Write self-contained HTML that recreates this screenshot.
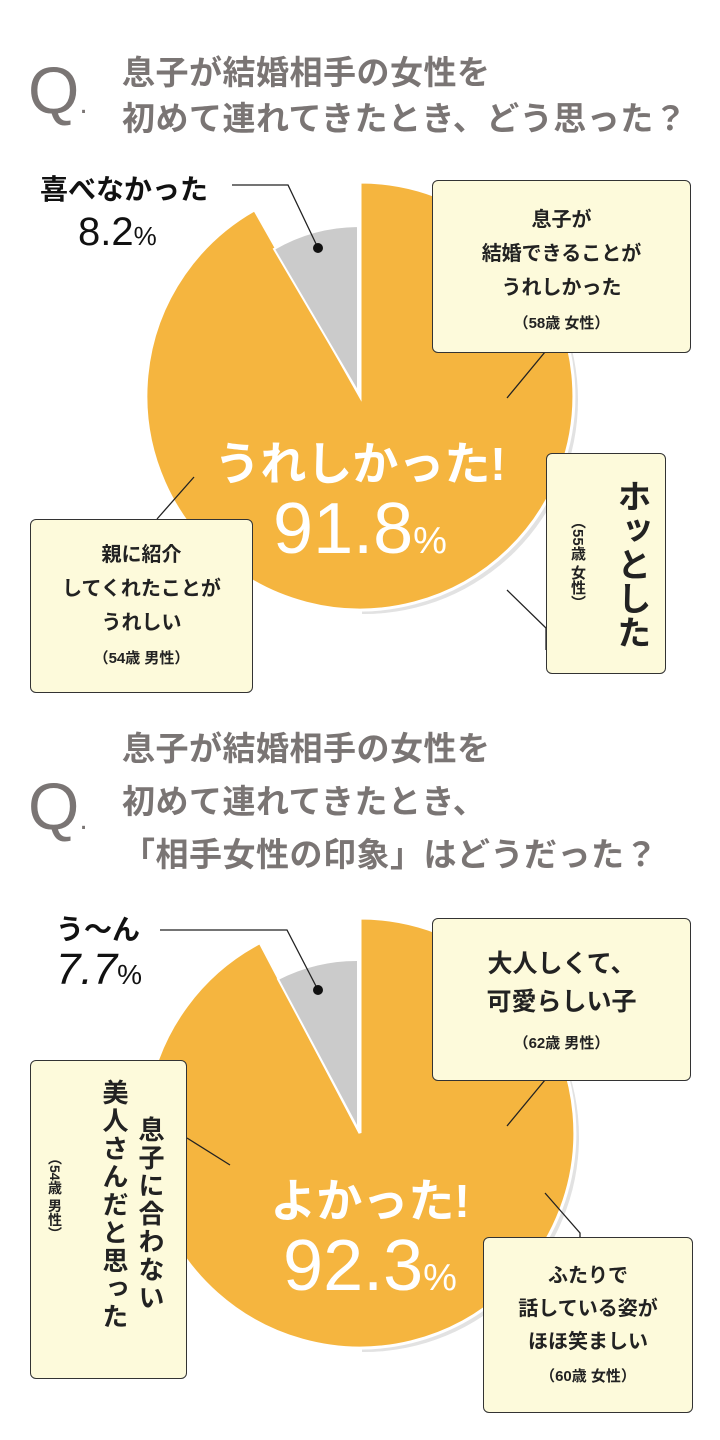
<!DOCTYPE html>
<html><head><meta charset="utf-8"><style>
body{margin:0;background:#fff;width:720px;height:1440px;position:relative;overflow:hidden;font-family:"Liberation Sans","Noto Sans CJK JP",sans-serif}
.a{position:absolute}
.t{color:#7a7574;font-size:33px;font-weight:700;line-height:46px;letter-spacing:0.5px;white-space:nowrap}
.q{color:#7a7574;font-size:66px;font-weight:400;font-family:"Liberation Sans",sans-serif}
.box{position:absolute;background:#fdfadb;border:1.5px solid #333;border-radius:6px;box-sizing:border-box;text-align:center;color:#222;font-weight:700}
.s{font-size:15px;font-weight:700}
.w{color:#fff;font-weight:700;text-align:center;white-space:nowrap}
.v{writing-mode:vertical-rl;position:absolute;text-align:start}
</style></head><body>
<svg class="a" style="left:0;top:0" width="720" height="1440">
<defs><clipPath id="c"><rect x="362" y="0" width="400" height="1440"/></clipPath></defs>
<circle cx="364" cy="400" r="214" fill="#e2e2e2" clip-path="url(#c)"/>
<path d="M360 396 L360 182 A214 214 0 1 1 254.6 209.7 Z" fill="#f5b53f" stroke="#fff" stroke-width="3"/>
<path d="M358 392 L358 226 A170 170 0 0 0 274 249 Z" fill="#cbcbcb" stroke="#fff" stroke-width="2"/>
<circle cx="364" cy="1137" r="215" fill="#e2e2e2" clip-path="url(#c)"/>
<path d="M360 1133 L360 918 A215 215 0 1 1 260 942.6 Z" fill="#f5b53f" stroke="#fff" stroke-width="3"/>
<path d="M358 1129 L358 960 A173 173 0 0 0 278 979 Z" fill="#cbcbcb" stroke="#fff" stroke-width="2"/>
<g stroke="#222" stroke-width="1.3" fill="none">
<polyline points="232,185 288,185 318,248"/>
<line x1="545" y1="352" x2="507" y2="398"/>
<line x1="157" y1="519" x2="194" y2="477"/>
<polyline points="507,590 546,628 546,650"/>
<polyline points="160,930 287,930 318,990"/>
<line x1="545" y1="1080" x2="507" y2="1126"/>
<line x1="187" y1="1138" x2="230" y2="1165"/>
<polyline points="545,1193 580,1233 580,1237"/>
</g>
<circle cx="318" cy="248" r="5" fill="#111"/>
<circle cx="318" cy="990" r="5" fill="#111"/>
</svg>
<div class="a q" style="left:28px;top:52px">Q<span style="font-size:30px">.</span></div>
<div class="a t" style="left:122px;top:50px">息子が結婚相手の女性を<br>初めて連れてきたとき、どう思った？</div>
<div class="a q" style="left:28px;top:768px">Q<span style="font-size:30px">.</span></div>
<div class="a t" style="left:122px;top:722px;line-height:53px">息子が結婚相手の女性を<br>初めて連れてきたとき、<br>「相手女性の印象」はどうだった？</div>

<div class="a" style="left:40px;top:168px;font-size:28px;font-weight:700;color:#111">喜べなかった</div>
<div class="a" style="left:78px;top:210px;font-size:40px;color:#111">8.2<span style="font-size:26px">%</span></div>
<div class="a" style="left:56px;top:908px;font-size:28px;font-weight:700;color:#111">う〜ん</div>
<div class="a" style="left:56px;top:945px;font-size:44px;color:#111;font-style:italic">7.7<span style="font-size:28px;font-style:normal">%</span></div>

<div class="a w" style="left:210px;top:428px;width:300px;font-size:46px">うれしかった!</div>
<div class="a w" style="left:210px;top:488px;width:300px;font-size:72px;font-weight:400">91.8<span style="font-size:38px">%</span></div>
<div class="a w" style="left:250px;top:1165px;width:240px;font-size:46px">よかった!</div>
<div class="a w" style="left:230px;top:1225px;width:280px;font-size:72px;font-weight:400">92.3<span style="font-size:38px">%</span></div>

<div class="box" style="left:432px;top:180px;width:259px;height:173px;padding-top:22px;font-size:20px;line-height:34px">息子が<br>結婚できることが<br>うれしかった<br><span class="s">（58歳 女性）</span></div>
<div class="box" style="left:546px;top:453px;width:120px;height:221px">
<div class="v" style="left:60px;top:25px;font-size:34px;font-weight:700;letter-spacing:0">ホッとした</div>
<div class="v" style="left:20px;top:60px;font-size:15px">（55歳 女性）</div></div>
<div class="box" style="left:30px;top:519px;width:223px;height:174px;padding-top:18px;font-size:20px;line-height:34px">親に紹介<br>してくれたことが<br>うれしい<br><span class="s">（54歳 男性）</span></div>

<div class="box" style="left:432px;top:918px;width:259px;height:163px;padding-top:26px;font-size:25px;line-height:38px">大人しくて、<br>可愛らしい子<br><span class="s">（62歳 男性）</span></div>
<div class="box" style="left:30px;top:1060px;width:157px;height:319px">
<div class="v" style="right:18px;top:55px;font-size:26px;line-height:36px;letter-spacing:2px">息子に合わない</div>
<div class="v" style="right:54px;top:18px;font-size:26px;line-height:36px;letter-spacing:2px">美人さんだと思った</div>
<div class="v" style="left:14px;top:90px;font-size:14px">（54歳 男性）</div></div>
<div class="box" style="left:483px;top:1237px;width:210px;height:176px;padding-top:22px;font-size:20px;line-height:33px">ふたりで<br>話している姿が<br>ほほ笑ましい<br><span class="s">（60歳 女性）</span></div>
</body></html>
